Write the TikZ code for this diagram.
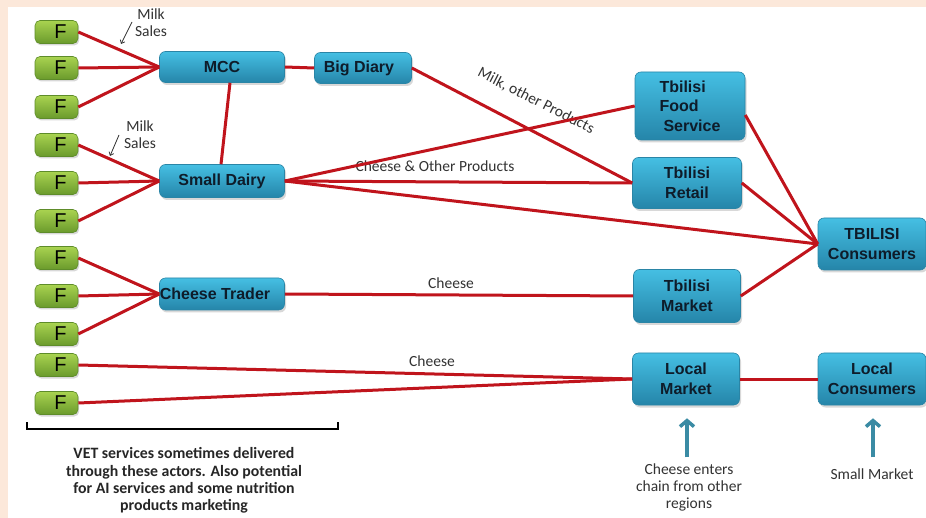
\documentclass[tikz,border=0pt]{standalone}
\usepackage{fontspec}
\setmainfont{Liberation Sans}
\newfontfamily\lblfont{Carlito}
\usetikzlibrary{shadows,calc,arrows.meta,shadings}

\definecolor{peach}{HTML}{FCE8DA}
\definecolor{flowred}{HTML}{C0141C}
\definecolor{boxtop}{HTML}{45BFE3}
\definecolor{boxbot}{HTML}{2585A9}
\definecolor{boxedge}{HTML}{2A85A6}
\definecolor{ftop}{HTML}{A9D350}
\definecolor{fbot}{HTML}{6A9A2C}
\definecolor{fedge}{HTML}{5E8C2A}
\definecolor{navy}{HTML}{0E1C2A}
\definecolor{arrowteal}{HTML}{3A8BA4}
\definecolor{labelgrey}{HTML}{333333}

\begin{document}
\begin{tikzpicture}[x=1pt,y=-1pt,
  actor/.style={rounded corners=6pt, top color=boxtop, bottom color=boxbot,
    draw=boxedge, line width=0.6pt,
    drop shadow={shadow xshift=1.5pt,shadow yshift=-2.5pt,opacity=0.3},
    font=\fontsize{16}{19.5}\selectfont\bfseries, text=navy, align=center,
    inner sep=2pt},
  farm/.style={rounded corners=5pt, top color=ftop, bottom color=fbot,
    draw=fedge, line width=0.6pt, minimum width=43pt, minimum height=23pt,
    drop shadow={shadow xshift=1.2pt,shadow yshift=-2pt,opacity=0.3},
    font=\fontsize{20}{20}\selectfont, text=black, inner sep=0pt},
  flow/.style={draw=flowred, line width=3pt},
  lbl/.style={font=\lblfont\fontsize{15.5}{17}\selectfont, text=labelgrey,
    align=center, inner sep=0pt},
  note/.style={font=\lblfont\fontsize{15.8}{17.3}\selectfont\bfseries,
    text=black!85, align=center, inner sep=0pt},
  pointer/.style={draw=black!80, line width=0.8pt, -{Straight Barb[length=3pt,width=5pt]}},
  uparrow/.style={draw=arrowteal, line width=3.5pt,
    -{Straight Barb[length=6pt,width=14pt,line width=3.5pt]}, shorten >=13pt}
]
\useasboundingbox (0,0) rectangle (926,518);
\fill[peach] (0,0) rectangle (926,518);
\fill[white] (8,7) rectangle (926,518);

% farmers
\foreach \i/\y in {1/32,2/68,3/107,4/145,5/183,6/221,7/258,8/296,9/334,10/365,11/403}
  \node[farm] (f\i) at (56.5,\y) {\hspace*{8pt}F};

% chain actors
\node[actor, minimum width=125pt, minimum height=31pt] (mcc) at (222,67) {MCC};
\node[actor, minimum width=97pt, minimum height=31pt] (big) at (363,68) {\hspace*{-8pt}Big Diary};
\node[actor, minimum width=125pt, minimum height=33pt] (sd) at (222,181) {Small Dairy};
\node[actor, minimum width=125pt, minimum height=32pt] (ct) at (222,294) {\hspace*{-14pt}Cheese Trader};
\node[actor, minimum width=110pt, minimum height=68pt, align=left] (tfs) at (690,106)
  {Tbilisi\\Food\\\hspace*{4pt}Service};
\node[actor, minimum width=109pt, minimum height=51pt] (tr) at (687,183) {Tbilisi\\Retail};
\node[actor, minimum width=107pt, minimum height=53pt] (tm) at (687,296) {Tbilisi\\Market};
\node[actor, minimum width=108pt, minimum height=52pt] (tc) at (872,244) {TBILISI\\Consumers};
\node[actor, minimum width=107pt, minimum height=52pt] (lm) at (686,379) {Local\\Market};
\node[actor, minimum width=108pt, minimum height=52pt] (lc) at (872,379) {Local\\Consumers};

% flow labels (under the flows)
\node[lbl] (ms1) at (151,23) {Milk\\Sales};
\node[lbl] (ms2) at (140,135) {Milk\\Sales};
\node[lbl, rotate=-27] (mop) at (536,101) {Milk, other Products};
\node[lbl] (cop) at (435,166) {Cheese \& Other Products};
\node[lbl] (ch1) at (451,283) {Cheese};
\node[lbl] (ch2) at (432,361) {Cheese};

% small pointers next to the milk sales labels
\coordinate (p1a) at (132,22);  \coordinate (p1b) at (121,44);
\coordinate (p2a) at (119,135); \coordinate (p2b) at (110,156);
\draw[pointer] (p1a) -- (p1b);
\draw[pointer] (p2a) -- (p2b);

% farmers to first buyers
\foreach \i in {1,2,3} \draw[flow] (f\i.east) -- (mcc.west);
\foreach \i in {4,5,6} \draw[flow] (f\i.east) -- (sd.west);
\foreach \i in {7,8,9} \draw[flow] (f\i.east) -- (ct.west);
\foreach \i in {10,11} \draw[flow] (f\i.east) -- (lm.west);

% processors and traders onwards
\draw[flow] (mcc.east) -- (big.west);
\draw[flow] ($(mcc.south)+(8,0)$) -- ($(sd.north)+(-1,0)$);
\draw[flow] (big.east) -- (tr.west);
\draw[flow] (sd.east) -- (tfs.west);
\draw[flow] (sd.east) -- (tr.west);
\draw[flow] (sd.east) -- (tc.west);
\draw[flow] (ct.east) -- (tm.west);
\draw[flow] ($(tfs.east)+(0,9)$) -- (tc.west);
\draw[flow] (tr.east) -- (tc.west);
\draw[flow] (tm.east) -- (tc.west);
\draw[flow] (lm.east) -- (lc.west);

% bracket under the farmers
\draw[black, line width=2.5pt] (27,422) -- (27,429) -- (338,429) -- (338,422);
\node[note] (vet) at (184,480.5) {VET services sometimes delivered\\through these actors. Also potential\\for AI services and some nutrition\\products marketing};

% inflows at the local level
\coordinate (lmin) at ($(lm.south)+(1,52)$);
\coordinate (lcin) at ($(lc.south)+(1,52)$);
\draw[uparrow] (lmin) -- ($(lm.south)+(1,0)$);
\draw[uparrow] (lcin) -- ($(lc.south)+(1,0)$);
\node[lbl] (cetext) at (689,487) {Cheese enters\\chain from other\\regions};
\node[lbl] (smtext) at (872,474) {Small Market};
\end{tikzpicture}
\end{document}
